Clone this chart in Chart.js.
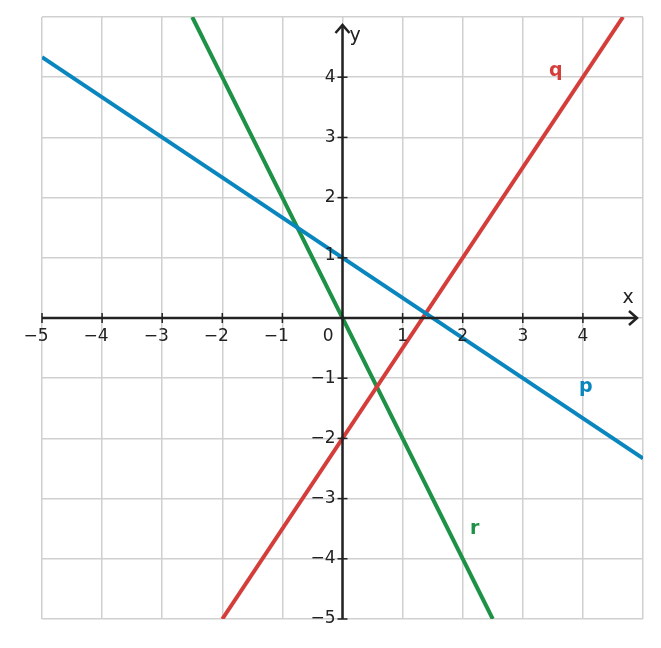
<!DOCTYPE html>
<html><head><meta charset="utf-8">
<script src="https://cdn.jsdelivr.net/npm/chart.js@4/dist/chart.umd.min.js"></script>
<style>html,body{margin:0;padding:0;background:#fff}#w{width:661px;height:648px}</style>
</head><body><div id="w"><canvas id="c"></canvas></div>
<script>
const xTicks = [-5,-4,-3,-2,-1,1,2,3,4];
const yTicks = [4,3,2,1,-1,-2,-3,-4,-5];
const pX = [-5, 5], pY = [4.333, -2.333];
const qX = [-2, 4.667], qY = [-5, 5];
const rX = [-2.5, 2.5], rY = [5, -5];
const lineLabels = [
  {t:'q', x:3.55, y:4.1, c:'#d43d3a'},
  {t:'p', x:4.05, y:-1.15, c:'#0a86bf'},
  {t:'r', x:2.2, y:-3.5, c:'#1d9146'}
];
const pts=(xs,ys)=>xs.map((x,i)=>({x,y:ys[i]}));
const FONT='"DejaVu Sans", sans-serif';
const axesPlugin={id:'axes',afterDatasetsDraw(ch){
  const c=ch.ctx,xs=ch.scales.x,ys=ch.scales.y,a=ch.chartArea;
  const x0=xs.getPixelForValue(0),y0=ys.getPixelForValue(0);
  c.save();c.strokeStyle='#222';c.fillStyle='#222';c.lineWidth=2.5;
  c.beginPath();c.moveTo(a.left,y0);c.lineTo(a.right-6,y0);c.moveTo(x0,a.bottom);c.lineTo(x0,a.top+8);c.stroke();
  c.beginPath();c.moveTo(a.right-14,y0-7);c.lineTo(a.right-6,y0);c.lineTo(a.right-14,y0+7);c.stroke();
  c.beginPath();c.moveTo(x0-7,a.top+16);c.lineTo(x0,a.top+8);c.lineTo(x0+7,a.top+16);c.stroke();
  c.lineWidth=1.5;
  c.font='17px '+FONT;c.textBaseline='middle';
  xTicks.forEach(v=>{const px=xs.getPixelForValue(v);c.beginPath();c.moveTo(px,y0-5);c.lineTo(px,y0+5);c.stroke();
    c.textAlign='center';c.fillText(v<0?'\u2212'+(-v):String(v),px-(v<0?6:0),y0+19);});
  yTicks.forEach(v=>{const py=ys.getPixelForValue(v);c.beginPath();c.moveTo(x0-5,py);c.lineTo(x0+5,py);c.stroke();
    c.textAlign='right';c.fillText(v<0?'\u2212'+(-v):String(v),x0-7,py-(v==1?2:0)+(v==-5?0:0));});
  c.textAlign='right';c.fillText('0',x0-9,y0+19);
  c.font='19px '+FONT;c.textAlign='left';c.fillText('y',x0+7,a.top+19);
  c.textAlign='center';c.fillText('x',a.right-15,y0-20);
  c.font='bold 19px '+FONT;
  lineLabels.forEach(l=>{c.fillStyle=l.c;c.fillText(l.t,xs.getPixelForValue(l.x),ys.getPixelForValue(l.y));});
  c.restore();
}};
const ds=(d,col)=>({data:d,borderColor:col,borderWidth:4,pointRadius:0,showLine:true,fill:false});
new Chart(document.getElementById('c'),{type:'scatter',
 data:{datasets:[ds(pts(pX,pY),'#0a86bf'),ds(pts(qX,qY),'#d43d3a'),ds(pts(rX,rY),'#1d9146')]},
 options:{responsive:true,maintainAspectRatio:false,animation:false,
  layout:{padding:{left:42,right:18,top:17,bottom:29}},
  plugins:{legend:{display:false},tooltip:{enabled:false}},
  scales:{
   x:{min:-5,max:5,ticks:{display:false,stepSize:1},grid:{color:'#d0d0d0',lineWidth:1.5,drawTicks:false},border:{display:false}},
   y:{min:-5,max:5,ticks:{display:false,stepSize:1},grid:{color:'#d0d0d0',lineWidth:1.5,drawTicks:false},border:{display:false}}
  }},
 plugins:[axesPlugin]});
</script></body></html>
